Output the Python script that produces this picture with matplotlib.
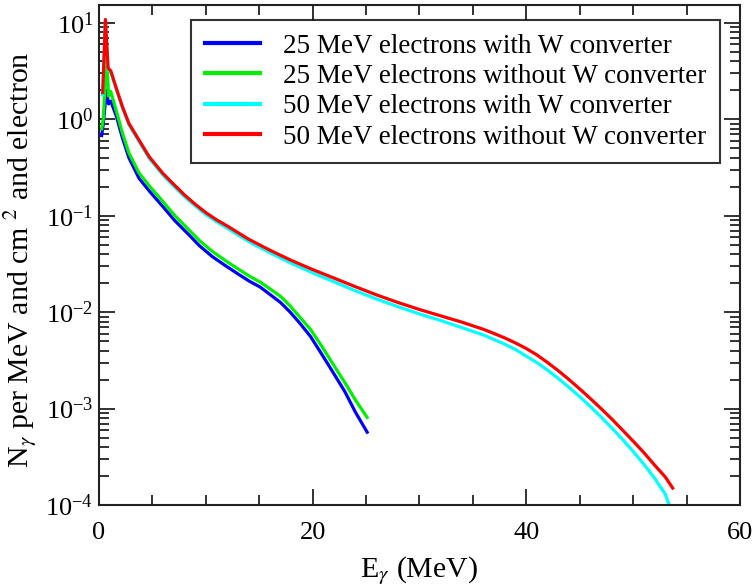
import numpy as np
import matplotlib
matplotlib.use('Agg')
import matplotlib.pyplot as plt
from matplotlib.ticker import MultipleLocator, LogLocator, NullFormatter

plt.rcParams['font.family'] = ['Liberation Serif', 'DejaVu Serif']
plt.rcParams['mathtext.fontset'] = 'stix'

# photon energy (MeV) and spectra
e_25 = [0.25, 0.4, 0.7, 0.9, 1.1, 1.6, 2.2, 2.8, 3.75, 4.8, 6.0, 7.1, 8.3, 9.4,
        10.6, 11.8, 13.0, 14.1, 15.1, 16.0, 17.0, 17.9, 18.8, 19.8, 20.7, 21.6,
        23.0, 24.0, 25.1]
n_25_w = [0.68, 0.9, 2.0, 1.45, 1.55, 1.1, 0.64, 0.40, 0.245, 0.176, 0.124,
          0.089, 0.0655, 0.049, 0.0378, 0.0306, 0.025, 0.0209, 0.0182, 0.0153,
          0.0126, 0.010, 0.0077, 0.0056, 0.0039, 0.0027, 0.00151, 9.2e-4, 5.7e-4]
n_25_now = [0.8, 1.0, 4.7, 1.75, 1.95, 1.25, 0.72, 0.448, 0.278, 0.199, 0.140,
            0.1005, 0.0738, 0.0555, 0.0428, 0.0345, 0.0282, 0.0236, 0.0205,
            0.0175, 0.0146, 0.0116, 0.0089, 0.00662, 0.00471, 0.00328, 0.00187,
            0.00123, 8.1e-4]

e_50 = [0.35, 0.6, 0.85, 1.1, 1.6, 2.2, 2.8, 3.75, 4.7, 5.96, 6.8, 8.0, 9.0,
        10.0, 11.0, 12.0, 14.0, 16.0, 18.0, 20.0, 22.0, 24.0, 26.0, 28.0, 30.0,
        32.0, 34.0, 36.0, 37.0, 38.0, 39.0, 40.0, 41.0, 42.0, 43.0, 44.0, 45.0,
        46.0, 47.0, 48.0, 49.0, 50.0, 51.0, 52.0, 53.0]
n_50_w = [1.8, 10.5, 3.3, 3.1, 2.07, 1.31, 0.88, 0.59, 0.395, 0.267, 0.214,
          0.158, 0.127, 0.103, 0.087, 0.0745, 0.0542, 0.0414, 0.0322, 0.0256,
          0.0207, 0.0167, 0.0137, 0.0114, 0.0096, 0.0082, 0.0069, 0.0058,
          0.0052, 0.00465, 0.0041, 0.0035, 0.0030, 0.0025, 0.00205, 0.00166,
          0.00133, 0.00105, 8.2e-4, 6.3e-4, 4.8e-4, 3.6e-4, 2.65e-4, 1.9e-4,
          1.3e-4]
n_50_now = [1.9, 10.9, 3.4, 3.2, 2.14, 1.35, 0.91, 0.61, 0.41, 0.277, 0.223,
            0.165, 0.132, 0.108, 0.091, 0.0785, 0.0573, 0.044, 0.0345, 0.0277,
            0.0226, 0.0184, 0.0151, 0.0126, 0.01067, 0.00916, 0.00787, 0.00664,
            0.0060, 0.0054, 0.00479, 0.0042, 0.0036, 0.0030, 0.00247, 0.0020,
            0.0016, 0.00127, 0.0010, 7.8e-4, 6.0e-4, 4.6e-4, 3.5e-4, 2.6e-4,
            1.96e-4]
# last points of the 50 MeV curves
e_50_end_w, n_50_end_w = [53.3, 53.8], [1.05e-4, 0.85e-4]
e_50_end_now, n_50_end_now = [53.7], [1.5e-4]

labels = ['25 MeV electrons with W converter',
          '25 MeV electrons without W converter',
          '50 MeV electrons with W converter',
          '50 MeV electrons without W converter']

fig = plt.figure(figsize=(7.54, 5.86), dpi=100)
ax = fig.add_axes([0.1313, 0.1382, 0.8501, 0.8533])

lw = 2.3
ax.plot(e_25, n_25_w, color='#0000ff', lw=lw, label=labels[0])
ax.plot(e_25, n_25_now, color='#00f000', lw=lw, label=labels[1])
ax.plot(e_50 + e_50_end_w, n_50_w + n_50_end_w, color='#00ffff', lw=lw,
        label=labels[2])
ax.plot(e_50 + e_50_end_now, n_50_now + n_50_end_now, color='#ff0000', lw=lw,
        label=labels[3])

ax.set_yscale('log')
ax.set_xlim(0, 60)
ax.set_ylim(1e-4, 15.4)

ax.xaxis.set_major_locator(MultipleLocator(20))
ax.xaxis.set_minor_locator(MultipleLocator(5))
ax.yaxis.set_major_locator(LogLocator(base=10, numticks=10))
ax.yaxis.set_minor_locator(LogLocator(base=10, subs=np.arange(2, 10), numticks=20))
ax.yaxis.set_minor_formatter(NullFormatter())

ax.tick_params(which='both', direction='in', top=True, right=True,
               labelsize=19, width=1.3, color='#222222')
ax.tick_params(which='major', length=11.5)
ax.tick_params(which='minor', length=7)
ax.tick_params(axis='x', which='major', pad=12)
ax.tick_params(axis='y', which='major', pad=4)
for s in ax.spines.values():
    s.set_linewidth(1.5)
    s.set_color('#222222')

ax.set_xlabel(r'E$_\gamma$ (MeV)', fontsize=21.5)
ax.set_ylabel(r'N$_\gamma$ per MeV and cm $^2$ and electron', fontsize=21.5)
ax.xaxis.set_label_coords(0.5, -0.098)
ax.yaxis.set_label_coords(-0.093, 0.49)

leg = ax.legend(loc='upper right', bbox_to_anchor=(0.969, 0.97), fontsize=19.5,
                frameon=True, fancybox=False, edgecolor='black',
                borderaxespad=0, handlelength=2.05, labelspacing=0.2,
                handletextpad=0.85, borderpad=0.5)
leg.get_frame().set_linewidth(1.5)
for line in leg.get_lines():
    line.set_linewidth(3)

fig.savefig('out.png', dpi=100)
